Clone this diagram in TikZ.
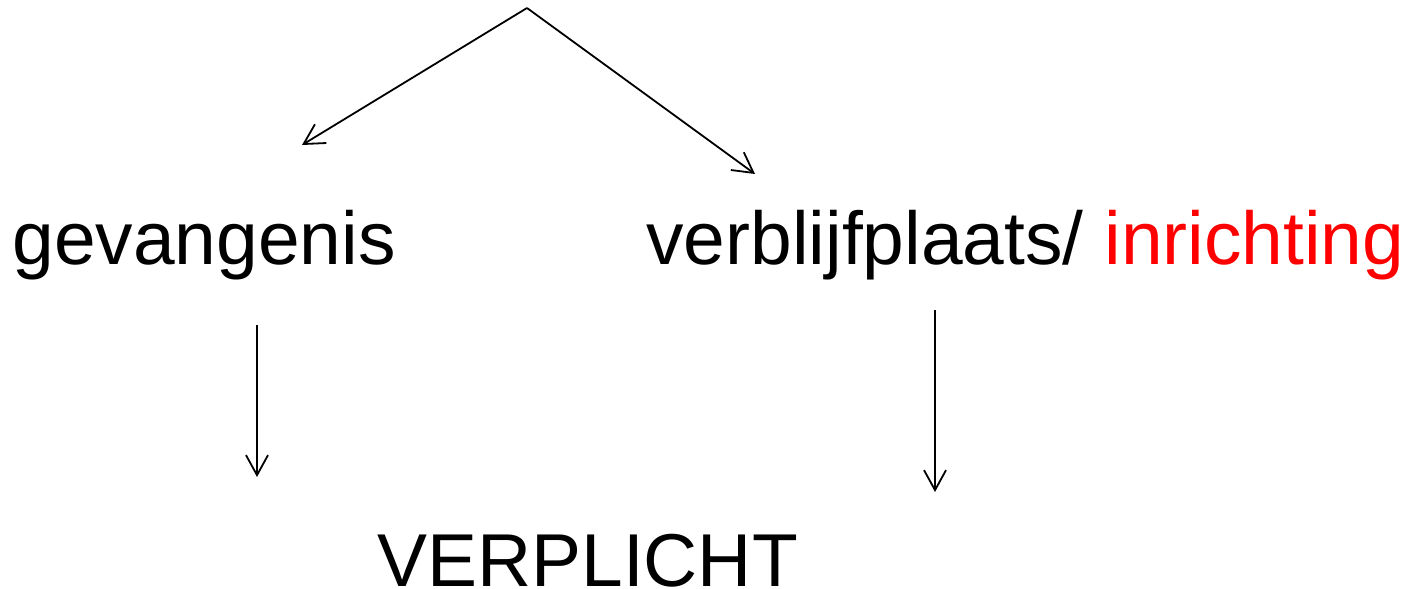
\documentclass[tikz,border=0pt]{standalone}
\usepackage{fontspec}
\setmainfont{Liberation Sans}
\usetikzlibrary{arrows.meta}
\definecolor{rood}{RGB}{255,0,0}
\tikzset{
	woord/.style = {inner sep=0pt, anchor=base west, font=\fontsize{37.6}{44}\selectfont},
	pijl/.style  = {-{Straight Barb[length=10bp, width=11bp]}, line width=0.9bp, black}
}
\begin{document}
\begin{tikzpicture}[x=0.5bp, y=-0.5bp]
				%\draw[help lines] (0,0) grid (1409,589);
				\useasboundingbox (0,0) rectangle (1409,589);
				
				\coordinate (top) at (527,8);
				\coordinate (links) at (302,145);
				\coordinate (rechts) at (755,174);
				
				\node[woord] (gevangenis) at (12,265) {gevangenis};
				\node[woord] (verblijf) at (646,265) {verblijfplaats/ \textcolor{rood}{inrichting}};
				\node[woord] (verplicht) at (377,586) {VERPLICHT};
				
				\coordinate (gevonder) at (257,325);
				\coordinate (gevpijl) at (257,477);
				\coordinate (verbonder) at (935,310);
				\coordinate (verbpijl) at (935,492);
				
				\draw[pijl] (top) -- (links);
				\draw[pijl] (top) -- (rechts);
				\draw[pijl] (gevonder) -- (gevpijl);
				\draw[pijl] (verbonder) -- (verbpijl);
				\end{tikzpicture}
\end{document}
